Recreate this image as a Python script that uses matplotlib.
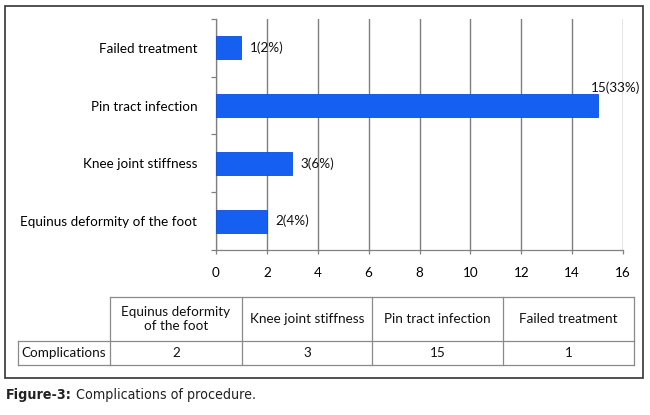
import matplotlib.pyplot as plt
from matplotlib.patches import Rectangle
from matplotlib.lines import Line2D

# data
categories = ['Equinus deformity of the foot', 'Knee joint stiffness',
              'Pin tract infection', 'Failed treatment']
table_heads = ['Equinus deformity\nof the foot', 'Knee joint stiffness',
               'Pin tract infection', 'Failed treatment']
counts = [2, 3, 15, 1]
percents = [4, 6, 33, 2]
row_name = 'Complications'
xticks = [0, 2, 4, 6, 8, 10, 12, 14, 16]

W, H = 650, 415
font = ['Lato', 'DejaVu Sans']
plt.rcParams['font.family'] = font
plt.rcParams['font.size'] = 9.7

fig = plt.figure(figsize=(6.5, 4.15), dpi=100)

def fx(px):
    return px / W

def fy(py):
    return 1 - py / H

ax = fig.add_axes([fx(216), fy(250), fx(623) - fx(216), fy(19) - fy(250)])

ypos = list(range(len(categories)))
ax.barh(ypos, counts, height=0.4, color='#1560f0', edgecolor='#0d4fd8',
        linewidth=0.6, zorder=3)

for y, c, p in zip(ypos, counts, percents):
    lab = '%d(%d%%)' % (c, p)
    if c >= 15:
        # no room on the right, so it sits above the bar end
        ax.text(c - 0.25, y + 0.31, lab, ha='left', va='center', color='#111111')
    else:
        ax.annotate(lab, xy=(c, y), xytext=(6, 0), textcoords='offset points',
                    ha='left', va='center', color='#111111')

ax.set_xlim(0, 16)
ax.set_ylim(-0.5, len(categories) - 0.5)
ax.set_xticks(xticks)
ax.set_xticklabels([str(t) for t in xticks])
ax.set_yticks(ypos)
ax.set_yticklabels(categories)
ax.set_yticks([i - 0.5 for i in range(len(categories) + 1)], minor=True)
ax.tick_params(axis='y', which='major', length=0, pad=13.5)
ax.tick_params(axis='y', which='minor', length=3.6, color='#808080', width=0.9)
ax.tick_params(axis='x', length=3, color='#808080', width=0.9, pad=9)
ax.grid(axis='x', color='#7f7f7f', linewidth=1.0, zorder=0)
ax.set_axisbelow(True)
for s in ['top', 'right']:
    ax.spines[s].set_visible(False)
for s in ['left', 'bottom']:
    ax.spines[s].set_color('#808080')
    ax.spines[s].set_linewidth(0.9)

# data table under the chart
cols = [18, 110, 242, 372, 503, 634]
rows = [297, 341, 365]
lc = '#8a8a8a'
for x in cols[1:]:
    fig.add_artist(Line2D([fx(x), fx(x)], [fy(rows[0]), fy(rows[2])], color=lc, lw=0.9))
fig.add_artist(Line2D([fx(cols[0]), fx(cols[0])], [fy(rows[1]), fy(rows[2])], color=lc, lw=0.9))
fig.add_artist(Line2D([fx(cols[1]), fx(cols[-1])], [fy(rows[0]), fy(rows[0])], color=lc, lw=0.9))
for r in rows[1:]:
    fig.add_artist(Line2D([fx(cols[0]), fx(cols[-1])], [fy(r), fy(r)], color=lc, lw=0.9))

for i, (h, c) in enumerate(zip(table_heads, counts)):
    xc = fx((cols[i + 1] + cols[i + 2]) / 2)
    fig.text(xc, fy((rows[0] + rows[1]) / 2), h, ha='center', va='center',
             linespacing=1.25, color='#111111')
    fig.text(xc, fy((rows[1] + rows[2]) / 2), str(c), ha='center', va='center',
             color='#111111')
fig.text(fx((cols[0] + cols[1]) / 2), fy((rows[1] + rows[2]) / 2), row_name,
         ha='center', va='center', color='#111111')

# outer frame
fig.add_artist(Rectangle((fx(5), fy(378)), fx(643) - fx(5), fy(6) - fy(378),
                         transform=fig.transFigure, fill=False,
                         edgecolor='#333333', linewidth=1.2))

# caption
cap_font = ['DejaVu Sans']
t1 = fig.text(fx(6), fy(395), 'Figure-3:', ha='left', va='center',
              fontsize=10.2, fontweight='bold', family=cap_font,
              fontstretch='condensed', color='#222222')
ax.annotate(' Complications of procedure.', xy=(1, 0.5), xycoords=t1,
            ha='left', va='center', fontsize=10.2, family=cap_font,
            fontstretch='condensed', color='#222222', annotation_clip=False)

fig.savefig('out.png', dpi=100)
